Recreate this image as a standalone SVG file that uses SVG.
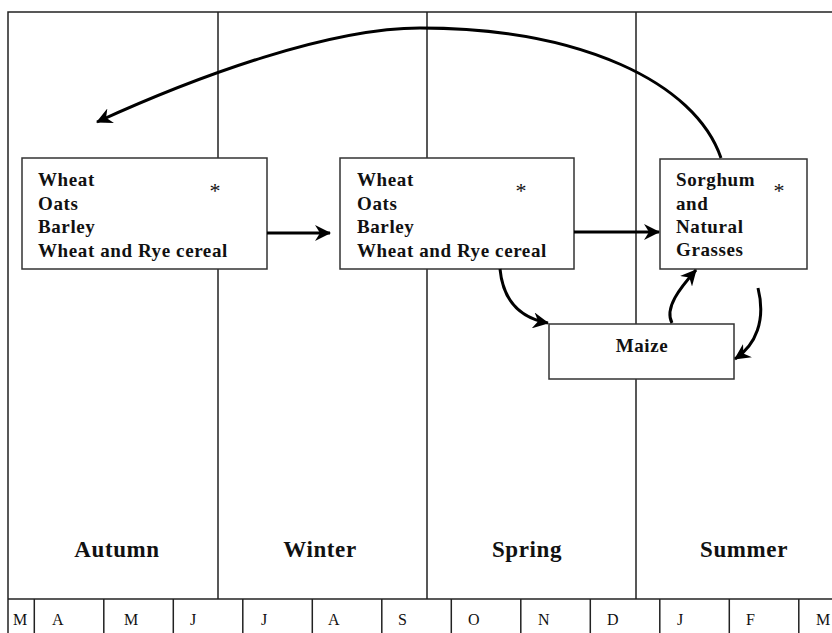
<svg xmlns="http://www.w3.org/2000/svg" width="832" height="633" viewBox="0 0 832 633">
<defs>
<style>
.frame{stroke:#222;stroke-width:1.5;fill:none}
.box{fill:#fff;stroke:#333;stroke-width:1.5}
.crop{font-family:"Liberation Serif","Times New Roman",serif;font-weight:bold;font-size:19px;letter-spacing:0.6px;fill:#111}
.star{font-family:"Liberation Serif","Times New Roman",serif;font-size:22px;fill:#111;text-anchor:middle}
.season{font-family:"Liberation Serif","Times New Roman",serif;font-weight:bold;font-size:23px;letter-spacing:0.6px;fill:#111;text-anchor:middle}
.month{font-family:"Liberation Serif","Times New Roman",serif;font-size:16px;fill:#111}
.arrow{stroke:#000;stroke-width:3;fill:none;marker-end:url(#head)}
</style>
<marker id="head" markerWidth="18" markerHeight="16" refX="15" refY="8" orient="auto" markerUnits="userSpaceOnUse">
<path d="M0,0 L16,8 L0,16 L5,8 z" fill="#000"/>
</marker>
</defs>
<rect width="832" height="633" fill="#fff"/>
<g id="frame">
<path class="frame" d="M8,633 V12 H832"/>
<path class="frame" d="M218,12 V599 M427,12 V599 M636,12 V599"/>
<path class="frame" d="M8,599 H832"/>
<path class="frame" d="M34.3,599 V633 M103.8,599 V633 M173.3,599 V633 M242.8,599 V633 M312.3,599 V633 M381.8,599 V633 M451.3,599 V633 M520.8,599 V633 M590.3,599 V633 M659.8,599 V633 M729.3,599 V633 M798.8,599 V633"/>
</g>
<g id="seasons">
<text class="season" x="117" y="557">Autumn</text>
<text class="season" x="320" y="557">Winter</text>
<text class="season" x="527" y="557">Spring</text>
<text class="season" x="744" y="557">Summer</text>
</g>
<g id="months">
<text class="month" x="13" y="625">M</text>
<text class="month" x="52" y="625">A</text>
<text class="month" x="124" y="625">M</text>
<text class="month" x="190" y="625">J</text>
<text class="month" x="261" y="625">J</text>
<text class="month" x="328" y="625">A</text>
<text class="month" x="398" y="625">S</text>
<text class="month" x="468" y="625">O</text>
<text class="month" x="538" y="625">N</text>
<text class="month" x="607" y="625">D</text>
<text class="month" x="677" y="625">J</text>
<text class="month" x="746" y="625">F</text>
<text class="month" x="816" y="625">M</text>
</g>
<g id="autumn-box">
<rect class="box" x="22" y="158" width="245" height="111"/>
<text class="crop" x="38" y="186">Wheat</text>
<text class="crop" x="38" y="210">Oats</text>
<text class="crop" x="38" y="233">Barley</text>
<text class="crop" x="38" y="257">Wheat and Rye cereal</text>
<text class="star" x="215" y="198">*</text>
</g>
<g id="winter-box">
<rect class="box" x="340" y="158" width="234" height="111"/>
<text class="crop" x="357" y="186">Wheat</text>
<text class="crop" x="357" y="210">Oats</text>
<text class="crop" x="357" y="233">Barley</text>
<text class="crop" x="357" y="257">Wheat and Rye cereal</text>
<text class="star" x="521" y="198">*</text>
</g>
<g id="summer-box">
<rect class="box" x="660" y="159" width="147" height="110"/>
<text class="crop" x="676" y="186">Sorghum</text>
<text class="crop" x="676" y="210">and</text>
<text class="crop" x="676" y="233">Natural</text>
<text class="crop" x="676" y="256">Grasses</text>
<text class="star" x="779" y="198">*</text>
</g>
<g id="maize-box">
<rect class="box" x="549" y="324" width="185" height="55"/>
<text class="crop" x="642" y="352" text-anchor="middle">Maize</text>
</g>
<g id="connectors">
<path class="arrow" d="M267,233 H330"/>
<path class="arrow" d="M574,232 H659"/>
<path class="arrow" d="M500,269 C503,300 520,318 548,323"/>
<path class="arrow" d="M672,323 C664,308 680,288 696,270"/>
<path class="arrow" d="M758,288 C766,320 756,345 735,359"/>
<path class="arrow" d="M721,158 C695,82 580,28 420,28 C330,28 200,75 97,122"/>
</g>
</svg>
